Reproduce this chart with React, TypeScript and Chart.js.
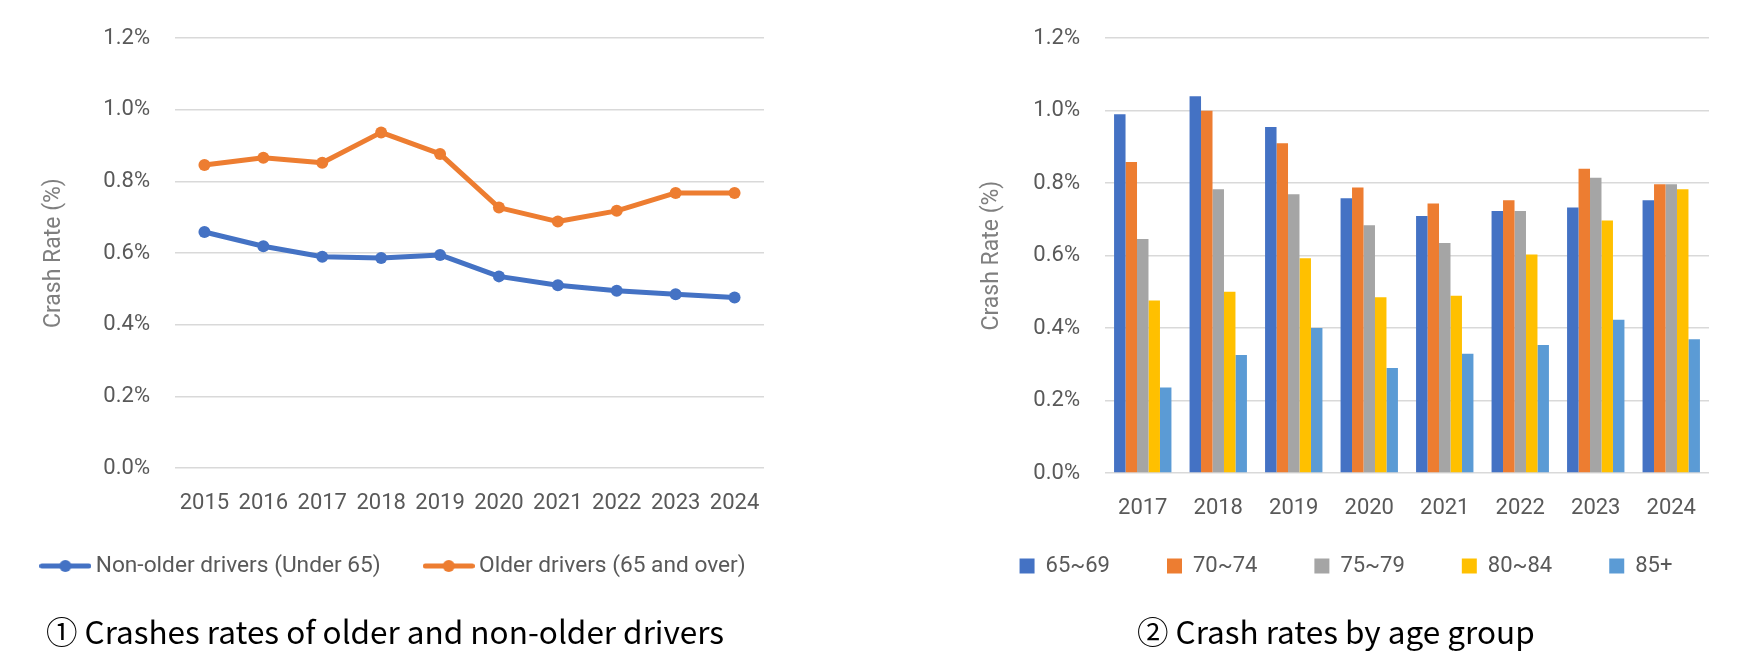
import React, { useEffect, useRef } from 'react';
import { Chart, registerables } from 'chart.js';

Chart.register(...registerables);

// ---------- data ----------
const lineYears = ['2015', '2016', '2017', '2018', '2019', '2020', '2021', '2022', '2023', '2024'];
const nonOlderDrivers = [0.659, 0.619, 0.59, 0.586, 0.595, 0.535, 0.51, 0.495, 0.485, 0.476];
const olderDrivers = [0.846, 0.866, 0.852, 0.937, 0.877, 0.727, 0.688, 0.718, 0.768, 0.768];
const lineSeriesNames = ['Non-older drivers (Under 65)', 'Older drivers (65 and over)'];

const barYears = ['2017', '2018', '2019', '2020', '2021', '2022', '2023', '2024'];
const ageGroups = ['65~69', '70~74', '75~79', '80~84', '85+'];
const age65to69 = [0.99, 1.04, 0.955, 0.758, 0.709, 0.723, 0.733, 0.753];
const age70to74 = [0.858, 1.0, 0.91, 0.788, 0.744, 0.753, 0.84, 0.797];
const age75to79 = [0.646, 0.783, 0.769, 0.684, 0.635, 0.723, 0.815, 0.797];
const age80to84 = [0.476, 0.5, 0.593, 0.485, 0.489, 0.603, 0.697, 0.783];
const age85plus = [0.236, 0.326, 0.4, 0.29, 0.329, 0.353, 0.423, 0.369];

const yMin = 0;
const yMax = 1.2;
const yStep = 0.2;
const yTitle = 'Crash Rate (%)';
const caption1 = '① Crashes rates of older and non-older drivers';
const caption2 = '② Crash rates by age group';

// ---------- styles ----------
const BLUE = '#4472C4';
const ORANGE = '#ED7D31';
const GRAY = '#A5A5A5';
const YELLOW = '#FFC000';
const LBLUE = '#5B9BD5';
const TEXT = '#595959';
const TITLE = '#7F7F7F';
const GRID = '#D9D9D9';
const FONT = 'Roboto, "Noto Sans", sans-serif';

// keeps the legend on one row, centres it at x = cx and puts its top at y = top (canvas coords)
function legendPlace(cx: number, top: number) {
  return {
    id: 'legendPlace',
    beforeLayout(chart: any) {
      const L = chart.legend;
      if (L && !L.__wide) {
        const orig = L.update;
        L.update = function (mw: number, mh: number, m: any) {
          return orig.call(this, mw + 1200, mh, m);
        };
        L.__wide = true;
      }
    },
    afterLayout(chart: any) {
      const L = chart.legend;
      if (!L) return;
      const h = L.bottom - L.top;
      L.left = cx - 800;
      L.right = cx + 800;
      L.top = top;
      L.bottom = top + h;
    },
  };
}

function yScale(width: number) {
  return {
    min: yMin,
    max: yMax,
    ticks: {
      stepSize: yStep,
      padding: 25,
      color: TEXT,
      font: { family: FONT, size: 22 },
      callback: (v: any) => Number(v).toFixed(1) + '%',
    },
    grid: { color: GRID, lineWidth: 1.5, drawTicks: false },
    border: { display: false },
    title: {
      display: true,
      text: yTitle,
      color: TITLE,
      font: { family: FONT, size: 23 },
      padding: 0,
    },
    afterFit: (s: any) => {
      s.width = width;
    },
  };
}

function xScale(height: number) {
  return {
    offset: true,
    grid: { display: false, drawTicks: false },
    border: { display: false },
    ticks: {
      padding: 22,
      color: TEXT,
      font: { family: FONT, size: 22 },
      maxRotation: 0,
      autoSkip: false,
    },
    afterFit: (s: any) => {
      s.height = height;
    },
  };
}

function makeMarker(color: string) {
  const c = document.createElement('canvas');
  c.width = 52;
  c.height = 14;
  const ctx = c.getContext('2d')!;
  ctx.strokeStyle = color;
  ctx.lineWidth = 5;
  ctx.lineCap = 'round';
  ctx.beginPath();
  ctx.moveTo(2.5, 7);
  ctx.lineTo(49.5, 7);
  ctx.stroke();
  ctx.fillStyle = color;
  ctx.beginPath();
  ctx.arc(26, 7, 6, 0, Math.PI * 2);
  ctx.fill();
  return c;
}

function LineChart() {
  const ref = useRef<HTMLCanvasElement>(null);
  useEffect(() => {
    if (!ref.current) return;
    const markers = [makeMarker(BLUE), makeMarker(ORANGE)];
    const colors = [BLUE, ORANGE];
    const series = [nonOlderDrivers, olderDrivers];
    const chart = new Chart(ref.current, {
      type: 'line',
      data: {
        labels: lineYears,
        datasets: series.map((d, i) => ({
          label: lineSeriesNames[i],
          data: d,
          borderColor: colors[i],
          backgroundColor: colors[i],
          pointBackgroundColor: colors[i],
          borderWidth: 5,
          pointRadius: 6,
          pointBorderWidth: 0,
          borderJoinStyle: 'round',
          borderCapStyle: 'round',
          tension: 0,
        })),
      },
      options: {
        responsive: false,
        animation: false,
        events: [],
        layout: { padding: { left: 40, right: 26, top: 35, bottom: 59.3 } },
        scales: {
          x: xScale(50) as any,
          y: yScale(135) as any,
        },
        plugins: {
          tooltip: { enabled: false },
          legend: {
            position: 'bottom',
            labels: {
              usePointStyle: true,
              pointStyleWidth: 38,
              padding: 49,
              color: TEXT,
              font: { family: FONT, size: 22.7 },
              generateLabels: (ch: any) =>
                (Chart.defaults.plugins.legend.labels.generateLabels as any)(ch).map((l: any, i: number) => ({
                  ...l,
                  pointStyle: markers[i],
                })),
            },
          },
        },
      },
      plugins: [legendPlace(396, 505.65)],
    } as any);
    return () => chart.destroy();
  }, []);
  return (
    <canvas
      ref={ref}
      width={790}
      height={659}
      style={{ position: 'absolute', left: 0, top: 0, width: 790, height: 659 }}
    />
  );
}

function BarChart() {
  const ref = useRef<HTMLCanvasElement>(null);
  useEffect(() => {
    if (!ref.current) return;
    const series = [age65to69, age70to74, age75to79, age80to84, age85plus];
    const colors = [BLUE, ORANGE, GRAY, YELLOW, LBLUE];
    const chart = new Chart(ref.current, {
      type: 'bar',
      data: {
        labels: barYears,
        datasets: series.map((d, i) => ({
          label: ageGroups[i],
          data: d,
          backgroundColor: colors[i],
          borderWidth: 0,
          barPercentage: 1,
          categoryPercentage: 0.76,
        })),
      },
      options: {
        responsive: false,
        animation: false,
        events: [],
        layout: { padding: { left: 118, right: 28, top: 35, bottom: 47 } },
        scales: {
          x: xScale(50) as any,
          y: yScale(127) as any,
        },
        plugins: {
          tooltip: { enabled: false },
          legend: {
            position: 'bottom',
            labels: {
              boxWidth: 15,
              boxHeight: 15,
              padding: 57,
              color: TEXT,
              font: { family: FONT, size: 22 },
            },
          },
        },
      },
      plugins: [legendPlace(486, 498)],
    } as any);
    return () => chart.destroy();
  }, []);
  return (
    <canvas
      ref={ref}
      width={877}
      height={659}
      style={{ position: 'absolute', left: 860, top: 0, width: 877, height: 659 }}
    />
  );
}

const captionStyle: React.CSSProperties = {
  position: 'absolute',
  top: 615,
  fontFamily: '"Noto Sans CJK KR", "Noto Sans", sans-serif',
  fontSize: 31.5,
  fontWeight: 400,
  lineHeight: 1,
  color: '#000',
  whiteSpace: 'nowrap',
};

export default function App() {
  return (
    <div
      style={{
        position: 'fixed',
        left: 0,
        top: 0,
        width: 1737,
        height: 659,
        background: '#fff',
        overflow: 'hidden',
      }}
    >
      <LineChart />
      <BarChart />
      <div style={{ ...captionStyle, left: 46 }}>{caption1}</div>
      <div style={{ ...captionStyle, left: 1137 }}>{caption2}</div>
    </div>
  );
}
